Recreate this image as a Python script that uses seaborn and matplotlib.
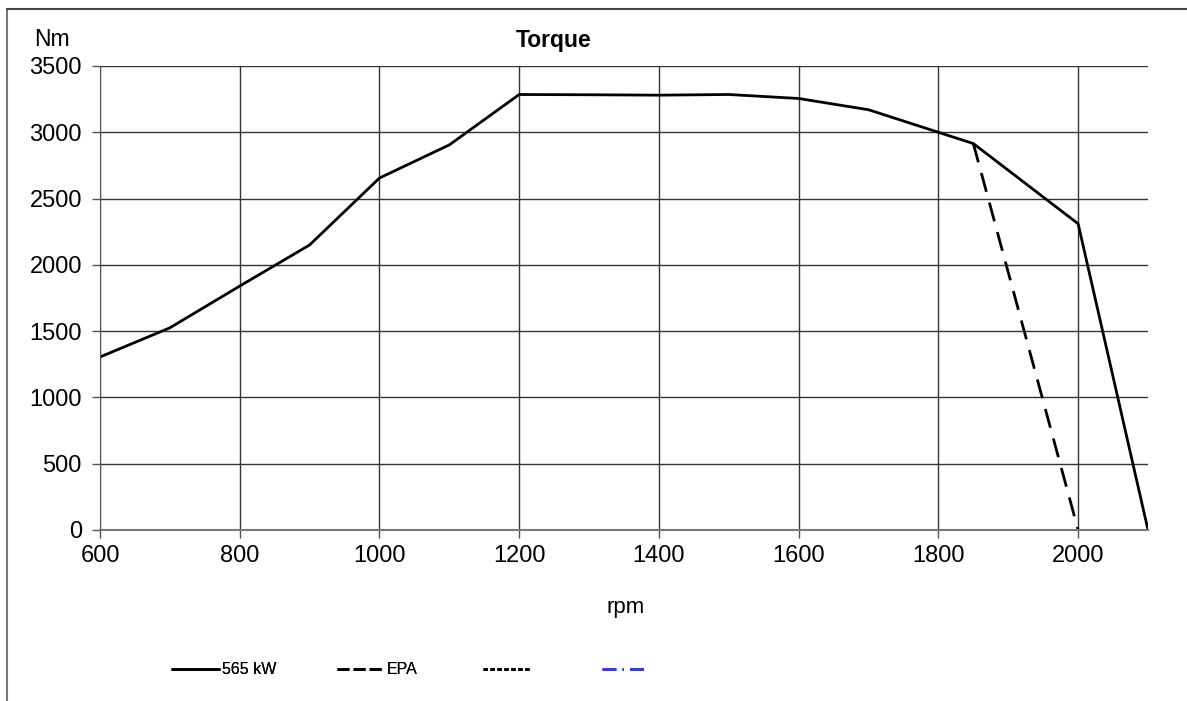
import numpy as np
import pandas as pd
import matplotlib
matplotlib.use("Agg")
import matplotlib.pyplot as plt
from matplotlib.lines import Line2D
import seaborn as sns

# curve data
rpm_565 = [600, 700, 800, 900, 1000, 1100, 1200, 1300, 1400, 1500, 1600, 1700, 1800, 1850, 2000, 2100]
nm_565 = [1305, 1525, 1840, 2150, 2655, 2905, 3285, 3283, 3280, 3285, 3255, 3170, 3000, 2915, 2310, 0]
rpm_epa = [1850, 2000]
nm_epa = [2915, 0]

x_ticks = [600, 800, 1000, 1200, 1400, 1600, 1800, 2000]
y_ticks = [0, 500, 1000, 1500, 2000, 2500, 3000, 3500]

sns.set_style("white")
plt.rcParams['font.family'] = ['Liberation Sans', 'DejaVu Sans']
plt.rcParams['text.color'] = 'black'
plt.rcParams['xtick.color'] = 'black'
plt.rcParams['ytick.color'] = 'black'

W, H = 1187, 701
fig = plt.figure(figsize=(W / 100, H / 100), dpi=100)
ax = fig.add_axes([100 / W, (H - 530) / H, (1148 - 100) / W, (530 - 66) / H])

df_565 = pd.DataFrame({'rpm': rpm_565, 'Nm': nm_565})
df_epa = pd.DataFrame({'rpm': rpm_epa, 'Nm': nm_epa})
sns.lineplot(data=df_565, x='rpm', y='Nm', ax=ax, color='black', lw=2, sort=False)
sns.lineplot(data=df_epa, x='rpm', y='Nm', ax=ax, color='black', lw=2, sort=False,
             dashes=False, linestyle=(0, (7, 4)))

ax.set_xlim(600, 2100)
ax.set_ylim(0, 3500)
ax.set_xticks(x_ticks)
ax.set_yticks(y_ticks)
ax.tick_params(labelsize=17, length=6, width=1, color='#555555', direction='out',
               bottom=True, left=True)
ax.tick_params(axis='y', pad=7)
ax.tick_params(axis='x', pad=5)
ax.grid(True, color='#333333', lw=1)
for sp in ['right', 'top']:
    ax.spines[sp].set_visible(False)
ax.spines['left'].set_color('#555555')
ax.spines['bottom'].set_color('#777777')
ax.spines['bottom'].set_linewidth(1.5)
ax.set_xlabel('')
ax.set_ylabel('')

fig.text(626 / W, 1 - 608 / H, 'rpm', fontsize=16, ha='center', va='center')
fig.text(554 / W, 1 - 40 / H, 'Torque', fontsize=16.5, fontweight='bold', ha='center', va='center')
fig.text(52 / W, 1 - 40 / H, 'Nm', fontsize=16.5, ha='center', va='center')

# outer chart border (top and left visible)
fig.add_artist(Line2D([7 / W, 7 / W], [0, 1 - 9 / H], color='#777777', lw=1.5, transform=fig.transFigure))
fig.add_artist(Line2D([7 / W, 1], [1 - 9 / H, 1 - 9 / H], color='#444444', lw=1.5, transform=fig.transFigure))

handles = [
    Line2D([], [], color='black', lw=2),
    Line2D([], [], color='black', lw=2, linestyle=(0, (4.3, 1.5))),
    Line2D([], [], color='black', lw=2, linestyle=(0, (1.6, 0.9))),
    Line2D([], [], color='#3a3adb', lw=2, linestyle=(0, (5, 2.2, 0.5, 2.2))),
]
labels = ['565 kW', 'EPA', ' ', ' ']
legend_x = [172, 337, 483, 602]
for h, lab, lx in zip(handles, labels, legend_x):
    leg = fig.legend([h], [lab], loc='center left', bbox_to_anchor=(lx / W, 1 - 670 / H),
                     frameon=False, fontsize=11.5, handlelength=47 / 16.0, handletextpad=0.2,
                     borderpad=0, borderaxespad=0)
    fig.add_artist(leg)

fig.savefig('out.png', dpi=100)
